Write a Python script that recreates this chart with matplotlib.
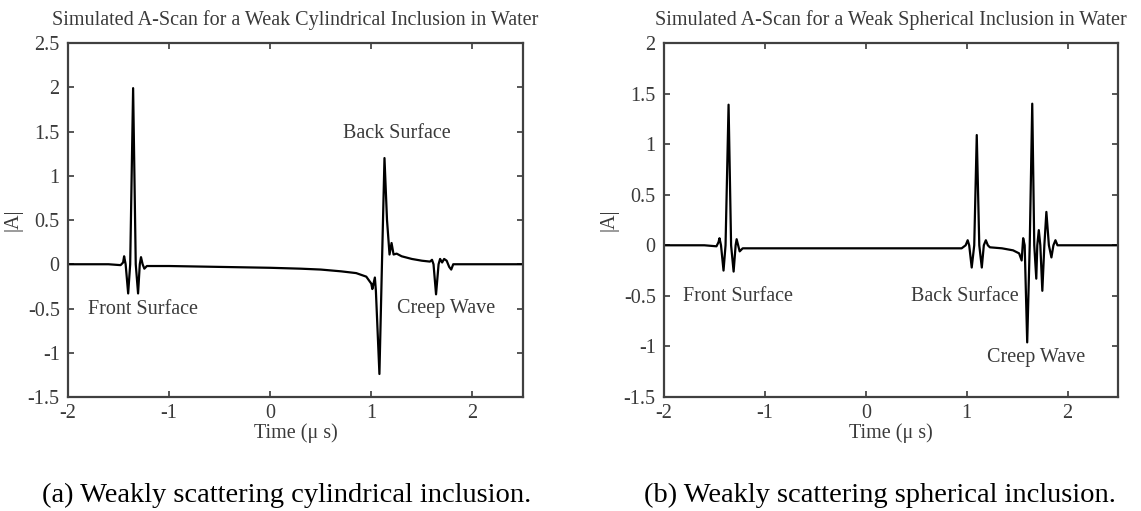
import matplotlib
matplotlib.use("Agg")
import matplotlib.pyplot as plt
from matplotlib.ticker import FuncFormatter

plt.rcParams['font.family'] = ['Liberation Serif', 'DejaVu Serif']
plt.rcParams['axes.unicode_minus'] = False

# ---- data ----
cyl_t = [-2.0, -1.60, -1.48, -1.455, -1.445, -1.43, -1.405, -1.385, -1.356, -1.33,
         -1.307, -1.29, -1.278, -1.262, -1.245, -1.22, -1.0, -0.5, 0.0, 0.3, 0.5,
         0.7, 0.85, 0.95, 1.0, 1.01, 1.035, 1.045, 1.08, 1.105, 1.13, 1.155, 1.18,
         1.2, 1.22, 1.25, 1.3, 1.4, 1.5, 1.58, 1.6, 1.615, 1.64, 1.665, 1.68, 1.70,
         1.72, 1.745, 1.77, 1.79, 1.81, 1.9, 2.5]
cyl_a = [0.0, 0.0, -0.01, 0.02, 0.09, 0.0, -0.33, 0.0, 1.99, 0.0,
         -0.33, 0.0, 0.08, 0.0, -0.05, -0.02, -0.02, -0.03, -0.04, -0.05, -0.06,
         -0.08, -0.10, -0.14, -0.22, -0.28, -0.15, -0.30, -1.24, 0.0, 1.2, 0.5, 0.11,
         0.24, 0.11, 0.12, 0.09, 0.06, 0.04, 0.03, 0.05, 0.0, -0.34, 0.0, 0.06, 0.02,
         0.06, 0.04, -0.03, -0.06, 0.0, 0.0, 0.0]

sph_t = [-2.0, -1.6, -1.48, -1.46, -1.45, -1.435, -1.41, -1.39, -1.36, -1.335,
         -1.31, -1.29, -1.28, -1.265, -1.25, -1.22, -0.5, 0.0, 0.5, 0.95, 0.99,
         1.01, 1.025, 1.05, 1.075, 1.10, 1.125, 1.15, 1.17, 1.19, 1.21, 1.23, 1.35,
         1.46, 1.52, 1.545, 1.56, 1.575, 1.60, 1.625, 1.65, 1.67, 1.69, 1.70, 1.715,
         1.73, 1.75, 1.77, 1.79, 1.815, 1.84, 1.86, 1.88, 1.90, 2.5]
sph_a = [0.0, 0.0, -0.01, 0.03, 0.07, 0.0, -0.25, 0.0, 1.39, 0.0,
         -0.26, 0.0, 0.06, 0.0, -0.06, -0.03, -0.03, -0.03, -0.03, -0.03, 0.0,
         0.05, 0.0, -0.22, 0.0, 1.09, 0.0, -0.22, 0.0, 0.05, 0.0, -0.02, -0.03,
         -0.05, -0.08, -0.15, 0.07, 0.0, -0.96, 0.0, 1.40, 0.0, -0.33, 0.0, 0.15,
         0.0, -0.45, 0.0, 0.33, 0.0, -0.12, 0.0, 0.05, 0.0, 0.0]

titles = ["Simulated A-Scan for a Weak Cylindrical Inclusion in Water",
          "Simulated A-Scan for a Weak Spherical Inclusion in Water"]
captions = ["(a) Weakly scattering cylindrical inclusion.",
            "(b) Weakly scattering spherical inclusion."]
x_ticks = [-2, -1, 0, 1, 2]
y_ticks_a = [-1.5, -1, -0.5, 0, 0.5, 1, 1.5, 2, 2.5]
y_ticks_b = [-1.5, -1, -0.5, 0, 0.5, 1, 1.5, 2]
labels_a = [("Front Surface", -1.26, -0.51), ("Back Surface", 1.25, 1.48),
            ("Creep Wave", 1.74, -0.5)]
labels_b = [("Front Surface", -1.27, -0.51), ("Back Surface", 0.98, -0.51),
            ("Creep Wave", 1.69, -1.11)]

TXT = '#3a3a3a'
FS = 14.5
fig = plt.figure(figsize=(11.41, 5.11), dpi=100)
W, H = 1141, 511
ax_a = fig.add_axes([68 / W, (H - 397) / H, 455 / W, 354 / H])
ax_b = fig.add_axes([664 / W, (H - 397) / H, 454 / W, 354 / H])

fmt = FuncFormatter(lambda v, p: "%g" % v)
for ax, t, a, title, yt, ylim, labs in [
        (ax_a, cyl_t, cyl_a, titles[0], y_ticks_a, (-1.5, 2.5), labels_a),
        (ax_b, sph_t, sph_a, titles[1], y_ticks_b, (-1.5, 2.0), labels_b)]:
    ax.plot(t, a, color='black', lw=1.6)
    ax.set_xlim(-2, 2.5)
    ax.set_ylim(*ylim)
    ax.set_xticks(x_ticks)
    ax.set_yticks(yt)
    ax.xaxis.set_major_formatter(fmt)
    ax.yaxis.set_major_formatter(fmt)
    ax.tick_params(direction='in', length=4, width=1.2, top=True, right=True,
                   labelsize=FS, colors=TXT, pad=5)
    ax.tick_params(axis='y', pad=6)
    for s in ax.spines.values():
        s.set_linewidth(1.6)
        s.set_color('#404040')
    ax.set_title(title, fontsize=FS, color=TXT, pad=13)
    ax.set_xlabel("Time (\u03bc s)", fontsize=FS, color=TXT, labelpad=0)
    ax.set_ylabel("|A|", fontsize=FS, color=TXT, labelpad=4)
    for txt, x, y in labs:
        ax.text(x, y, txt, fontsize=FS, color=TXT, ha='center', va='center')

fig.text(287 / W, 1 - 495 / H, captions[0], fontsize=20.5, ha='center', va='center', color='black')
fig.text(880 / W, 1 - 495 / H, captions[1], fontsize=20.5, ha='center', va='center', color='black')

fig.savefig("out.png", dpi=100)
